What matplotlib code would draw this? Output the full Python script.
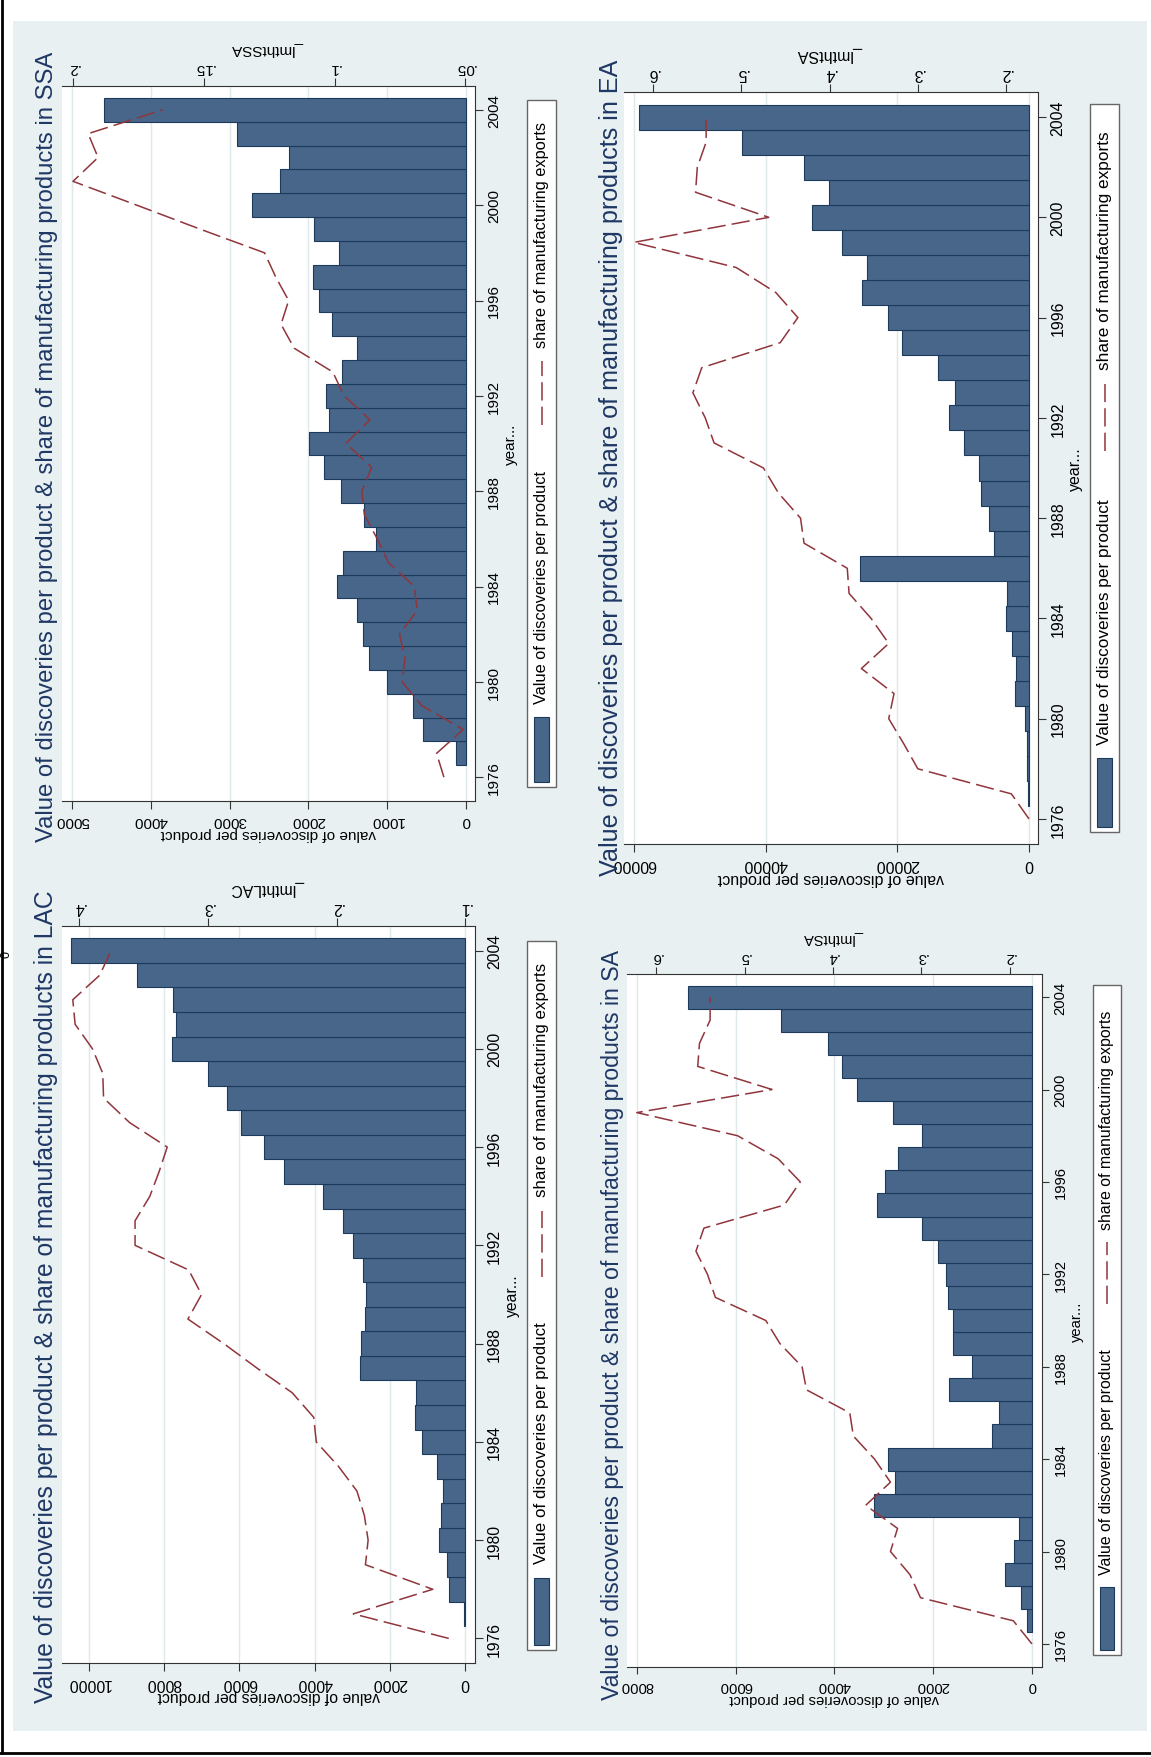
import matplotlib
matplotlib.use("Agg")
import matplotlib.pyplot as plt
import numpy as np
from matplotlib.patches import Rectangle
from matplotlib.lines import Line2D

W, H = 1151, 1758
plt.rcParams['font.family'] = ['Liberation Sans', 'DejaVu Sans']

BAR = '#476689'
BAR_EDGE = '#1b3a5c'
LINE = '#90353b'
GRID = '#dfe8ea'
TITLE = '#1e3764'
BG = '#e8f0f2'

nan = np.nan
years = np.arange(1976, 2005)
year_ticks = [1976, 1980, 1984, 1988, 1992, 1996, 2000, 2004]

# --- value of discoveries per product (1976-2004) ---
ssa_value = [nan, 129, 552, 679, 1008, 1232, 1312, 1388, 1632, 1561, 1138, 1298, 1590, 1801, 1989,
             1735, 1773, 1571, 1388, 1698, 1867, 1937, 1613, 1923, 2717, 2359, 2251, 2905, 4599]
ea_value = [nan, 111, 222, 277, 555, 2105, 1885, 2550, 3380, 3270, 25620, 5270, 5990, 7210, 7490,
            9815, 12140, 11150, 13750, 19300, 21400, 25400, 24560, 28450, 32940, 30440, 34160, 43530, 59330]
lac_value = [nan, 29, 442, 501, 697, 638, 599, 766, 1149, 1336, 1306, 2800, 2770, 2672, 2652,
             2731, 2996, 3242, 3792, 4803, 5334, 5953, 6326, 6847, 7780, 7672, 7750, 8723, 10461]
sa_value = [nan, 96, 222, 539, 355, 259, 3206, 2763, 2910, 813, 665, 1677, 1204, 1588, 1588,
            1699, 1743, 1891, 2231, 3132, 2970, 2704, 2216, 2807, 3531, 3841, 4137, 5082, 6958]

# --- share of manufacturing exports (1976-2004) ---
ssa_share = [0.0582, 0.0610, 0.0508, 0.0667, 0.0742, 0.0731, 0.0752, 0.0684, 0.0695, 0.0794,
             0.0837, 0.0886, 0.0896, 0.0858, 0.0957, 0.0865, 0.0964, 0.1007, 0.1155, 0.1205,
             0.1176, 0.1226, 0.1268, 0.1516, 0.1757, 0.2001, 0.1905, 0.1943, 0.1658]
ea_share = [0.174, 0.194, 0.300, 0.316, 0.333, 0.327, 0.364, 0.333, 0.353, 0.378,
            0.380, 0.429, 0.433, 0.458, 0.475, 0.531, 0.541, 0.555, 0.545, 0.456,
            0.436, 0.461, 0.506, 0.622, 0.469, 0.552, 0.550, 0.540, 0.540]
lac_share = [0.1129, 0.1871, 0.1253, 0.1777, 0.1756, 0.1785, 0.1843, 0.1986, 0.2159, 0.2179,
             0.2346, 0.2619, 0.2878, 0.3157, 0.3051, 0.3151, 0.3568, 0.3568, 0.3453, 0.3381,
             0.3318, 0.3611, 0.3813, 0.3819, 0.3899, 0.4034, 0.4052, 0.3842, 0.3755]
sa_share = [0.175, 0.196, 0.301, 0.313, 0.335, 0.327, 0.363, 0.335, 0.353, 0.377,
            0.381, 0.430, 0.435, 0.460, 0.476, 0.533, 0.542, 0.555, 0.546, 0.455,
            0.437, 0.462, 0.508, 0.622, 0.469, 0.553, 0.551, 0.539, 0.539]

# variable names shown on the share axes
ssa_svar = '_lmthtSSA'
ea_svar = '_lmthtSA'
lac_svar = '_lmthtLAC'
sa_svar = '_lmthtSA'

# axis ticks
ssa_vticks = [0, 1000, 2000, 3000, 4000, 5000]
ea_vticks = [0, 20000, 40000, 60000]
lac_vticks = [0, 2000, 4000, 6000, 8000, 10000]
sa_vticks = [0, 2000, 4000, 6000, 8000]
ssa_sticks = [0.05, 0.10, 0.15, 0.20]
ea_sticks = [0.2, 0.3, 0.4, 0.5, 0.6]
lac_sticks = [0.1, 0.2, 0.3, 0.4]
sa_sticks = [0.2, 0.3, 0.4, 0.5, 0.6]


def fx(x):
    return x / W


def fy(y):
    return 1 - y / H


def share_label(v):
    return ('%g' % v).lstrip('0')


def draw_panel(fig, region, svar, values, share, vticks, vlim, sticks, slim, box, title_pos, leg):
    L, R, T, B = box
    s = (B - T) / 715.0  # panels were exported at slightly different scales
    small = 11 * s

    ax = fig.add_axes([fx(L), fy(B), (R - L) / W, (B - T) / H])
    ax.set_axisbelow(True)
    ax.barh(years, values, height=1.0, color=BAR, edgecolor=BAR_EDGE, linewidth=0.8)
    ax.set_xlim(*vlim)
    ax.set_ylim(1975.0, 2005.0)
    ax.set_xticks(vticks)
    ax.set_xticklabels([str(v) for v in vticks], rotation=180)
    ax.xaxis.grid(True, color=GRID, lw=1.0)
    ax.yaxis.tick_right()
    ax.set_yticks(year_ticks)
    ax.set_yticklabels([str(y) for y in year_ticks], rotation=90, va='center')
    ax.tick_params(length=5.5 * s, width=0.8, pad=3 * s, labelsize=small, color='#333333')
    for sp in ('left', 'top'):
        ax.spines[sp].set_visible(False)
    for sp in ('bottom', 'right'):
        ax.spines[sp].set_color('#333333')
        ax.spines[sp].set_linewidth(0.8)

    ax2 = ax.twiny()
    ax2.plot(share, years, color=LINE, lw=1.1, dashes=(12, 4))
    ax2.set_xlim(*slim)
    ax2.set_xticks(sticks)
    ax2.set_xticklabels([share_label(v) for v in sticks], rotation=180)
    ax2.tick_params(length=5.5 * s, width=0.8, pad=3 * s, labelsize=small, color='#333333')
    for sp in ('left', 'bottom', 'right'):
        ax2.spines[sp].set_visible(False)
    ax2.spines['top'].set_color('#333333')
    ax2.spines['top'].set_linewidth(0.8)
    ax2.patch.set_visible(False)

    # axis titles
    fig.text(fx((L + R) / 2), fy(B + 32 * s), 'value of discoveries per product',
             rotation=180, ha='center', va='center', fontsize=small)
    fig.text(fx((L + R) / 2), fy(T - 37 * s), svar,
             rotation=180, ha='center', va='center', fontsize=small)
    fig.text(fx(R + 36 * s), fy((T + B) / 2), 'year...',
             rotation=90, ha='center', va='center', fontsize=small)
    fig.text(fx(title_pos[0]), fy(title_pos[1]),
             'Value of discoveries per product & share of manufacturing products in ' + region,
             rotation=90, ha='center', va='bottom', fontsize=17.2 * s, color=TITLE)

    # legend
    x0, x1, y0, y1 = leg
    xc = (x0 + x1) / 2
    fig.add_artist(Rectangle((fx(x0), fy(y1)), (x1 - x0) / W, (y1 - y0) / H,
                             transform=fig.transFigure, facecolor='white',
                             edgecolor='#666666', lw=1.0))
    fig.add_artist(Rectangle((fx(x0 + 7 * s), fy(y1 - 5 * s)), (x1 - x0 - 14 * s) / W, 65 * s / H,
                             transform=fig.transFigure, facecolor=BAR,
                             edgecolor=BAR_EDGE, lw=0.8))
    fig.text(fx(xc), fy(y1 - 84 * s), 'Value of discoveries per product',
             rotation=90, ha='center', va='bottom', fontsize=11.8 * s)
    fig.add_artist(Line2D([fx(xc), fx(xc)], [fy(y1 - 362 * s), fy(y1 - 426 * s)],
                          transform=fig.transFigure, color=LINE, lw=1.1, dashes=(12, 4)))
    fig.text(fx(xc), fy(y1 - 440 * s), 'share of manufacturing exports',
             rotation=90, ha='center', va='bottom', fontsize=11.8 * s)


fig = plt.figure(figsize=(W / 100, H / 100), dpi=100)
fig.patch.set_facecolor('white')

# light graph region behind the four panels
fig.add_artist(Rectangle((fx(13), fy(1732)), (1147 - 13) / W, (1732 - 22) / H,
                         transform=fig.transFigure, facecolor=BG, edgecolor='none', zorder=-5))

draw_panel(fig, 'SSA', ssa_svar, ssa_value, ssa_share, ssa_vticks, (5127, -114), ssa_sticks,
           (0.2043, 0.0463), (62, 475, 87, 802), (47, 842), (527, 556, 101, 788))
draw_panel(fig, 'EA', ea_svar, ea_value, ea_share, ea_vticks, (61550, -1420), ea_sticks,
           (0.6331, 0.1638), (624, 1038, 93, 845), (611, 876), (1090, 1119, 105, 833))
draw_panel(fig, 'LAC', lac_svar, lac_value, lac_share, lac_vticks, (10710, -255), lac_sticks,
           (0.4136, 0.0925), (62, 475, 927, 1664), (46, 1703), (527, 556, 942, 1651))
draw_panel(fig, 'SA', sa_svar, sa_value, sa_share, sa_vticks, (8200, -207), sa_sticks,
           (0.633, 0.1636), (627, 1042, 975, 1668), (613, 1700), (1093, 1121, 986, 1656))

# page frame
fig.add_artist(Line2D([fx(2), fx(2)], [fy(1754), 1.0], transform=fig.transFigure, color='black', lw=2))
fig.add_artist(Line2D([0, 1], [fy(1754), fy(1754)], transform=fig.transFigure, color='black', lw=2))
fig.text(fx(6), fy(955), '0', rotation=90, ha='center', va='center', fontsize=9)

fig.savefig('out.png', dpi=100)
